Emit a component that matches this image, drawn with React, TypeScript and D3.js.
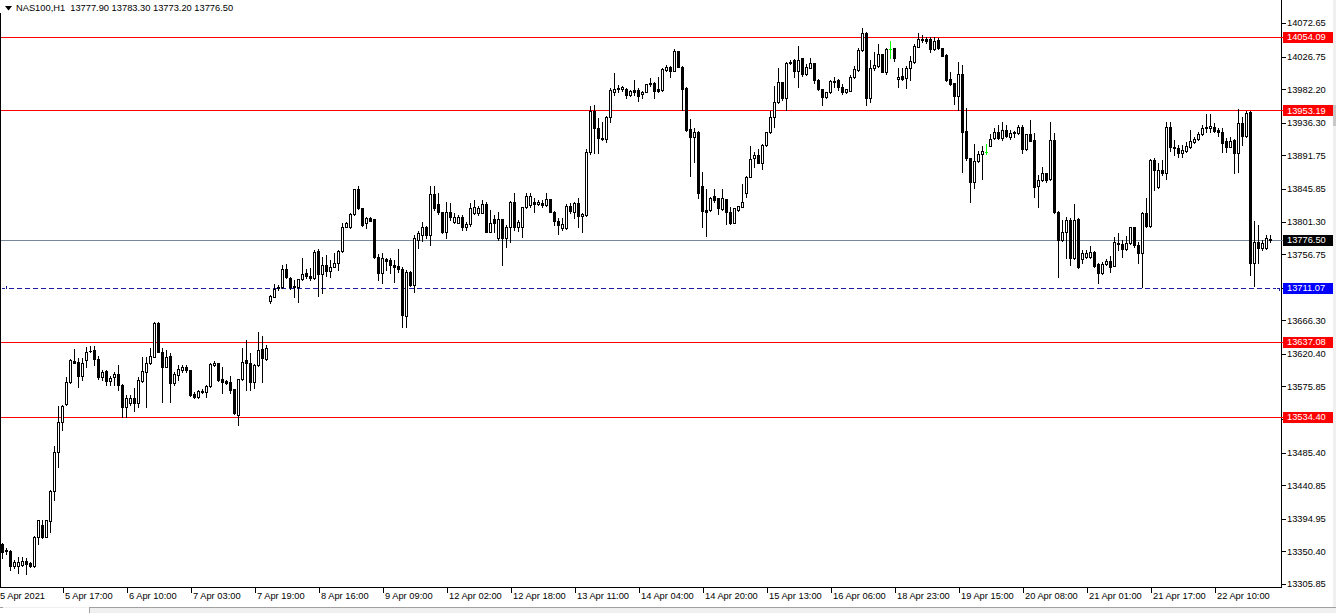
import React from 'react';
import * as d3 from 'd3';

const OPEN = [
13360.5,13351.7,13351.0,13330.5,13330.9,13331.8,13337.3,13334.6,13330.5,13370.1,
13386.5,13370.5,13392.4,13433.0,13486.7,13527.3,13551.9,13582.0,13611.1,13609.4,
13590.6,13612.1,13624.3,13625.7,13613.4,13588.8,13597.4,13583.8,13588.8,13592.9,
13577.9,13548.2,13552.9,13559.7,13552.9,13583.8,13596.1,13607.5,13616.6,13663.0,
13623.4,13602.9,13617.5,13581.0,13591.5,13598.4,13602.9,13598.4,13565.5,13561.1,
13569.6,13568.7,13576.5,13605.2,13607.5,13585.7,13583.3,13582.4,13572.4,13536.9,
13585.7,13612.1,13608.4,13582.4,13604.8,13626.7,13613.4,13693.1,13698.6,13711.8,
13711.4,13736.4,13724.6,13713.2,13711.4,13722.3,13730.5,13726.9,13723.7,13761.0,
13729.6,13741.9,13734.1,13739.6,13744.2,13761.0,13794.2,13794.2,13811.2,13845.4,
13819.4,13798.9,13805.7,13804.4,13752.4,13730.5,13749.7,13748.7,13741.9,13740.5,
13736.4,13672.6,13732.8,13714.6,13776.1,13782.9,13793.4,13782.9,13838.9,13825.3,
13813.9,13787.4,13813.9,13801.1,13799.7,13807.9,13794.2,13797.9,13812.5,13812.5,
13813.4,13825.3,13787.4,13804.4,13778.4,13804.4,13778.4,13793.4,13828.4,13793.4,
13793.4,13820.8,13823.9,13827.6,13825.3,13827.0,13823.9,13831.7,13814.8,13802.4,
13792.1,13792.1,13822.5,13814.8,13827.0,13809.3,13810.2,13895.9,13952.4,13928.7,
13915.1,13914.1,13944.6,13978.8,13983.4,13982.5,13982.0,13974.3,13980.7,13980.7,
13975.2,13978.8,13990.3,13990.3,13982.5,13981.1,14008.4,14012.9,14007.5,14034.4,
14012.9,13984.2,13927.8,13917.3,13924.1,13850.0,13817.1,13817.1,13836.2,13833.1,
13818.4,13832.1,13813.9,13799.7,13817.1,13821.6,13840.7,13862.6,13887.7,13892.2,
13881.7,13905.9,13923.3,13944.6,13964.3,13991.6,13970.6,14017.6,14022.1,14007.5,
14024.4,14002.5,14011.6,14017.6,13994.8,13982.0,13971.1,13977.9,13993.4,13994.8,
13984.8,13977.9,13980.1,13998.5,14008.4,14035.8,14058.6,13969.7,14010.7,14014.3,
14029.9,14006.1,14037.1,14038.1,13995.7,14000.2,13997.9,14011.6,14019.8,14040.3,
14050.8,14050.8,14050.8,14037.1,14049.4,14038.1,14028.9,13996.1,13990.3,13973.3,
14002.5,13925.0,13887.7,13855.8,13884.0,13893.6,13895.9,13904.9,13915.1,13924.1,
13915.1,13926.4,13917.3,13923.3,13921.9,13930.1,13900.0,13920.5,13912.7,13849.9,
13858.1,13867.2,13859.0,13912.7,13814.8,13776.1,13787.4,13803.4,13751.0,13804.4,
13750.1,13752.4,13752.4,13759.7,13743.3,13730.5,13742.8,13747.4,13740.9,13772.4,
13770.6,13763.4,13771.5,13793.4,13769.2,13758.7,13812.5,13795.2,13885.4,13848.1,
13871.7,13867.2,13930.9,13903.6,13901.4,13894.6,13898.1,13903.6,13910.4,13913.7,
13920.5,13930.9,13928.7,13930.9,13926.4,13924.1,13911.8,13903.6,13912.7,13894.6,
13935.6,13918.2,13951.4,13744.2,13772.9,13765.6,13765.6,13777.9
];

const HIGH = [
13361.9,13355.1,13352.0,13338.7,13342.8,13342.8,13341.8,13336.0,13371.0,13394.0,
13393.4,13393.4,13434.4,13494.5,13549.2,13550.6,13588.8,13613.0,13627.1,13614.8,
13614.8,13630.2,13631.2,13631.2,13617.5,13598.4,13598.4,13590.2,13595.7,13605.3,
13579.0,13564.2,13564.2,13573.8,13588.8,13616.2,13616.2,13628.5,13664.0,13664.0,
13628.5,13625.7,13622.0,13595.7,13605.2,13605.2,13605.2,13599.0,13568.3,13571.0,
13572.4,13577.9,13608.0,13611.1,13608.0,13602.9,13584.7,13590.2,13573.0,13586.1,
13628.9,13639.4,13621.6,13606.0,13649.9,13644.9,13632.6,13700.9,13715.9,13715.0,
13741.9,13743.3,13725.5,13721.4,13722.8,13751.0,13736.4,13737.4,13762.4,13763.4,
13753.3,13755.6,13748.7,13758.3,13762.4,13799.3,13801.1,13813.0,13845.8,13849.9,
13819.8,13807.5,13807.5,13804.8,13756.9,13758.3,13751.5,13751.5,13748.7,13763.8,
13738.8,13735.1,13734.0,13782.9,13788.8,13801.1,13795.2,13849.9,13849.9,13840.7,
13814.8,13828.4,13827.0,13812.5,13810.2,13810.2,13801.1,13826.2,13830.7,13822.9,
13830.7,13828.4,13817.1,13810.2,13814.8,13804.8,13796.6,13829.3,13839.9,13803.4,
13821.2,13839.9,13839.9,13833.1,13831.1,13830.7,13839.9,13832.1,13815.7,13806.1,
13805.7,13825.3,13827.0,13828.4,13833.1,13812.5,13900.5,13959.6,13960.6,13943.2,
13937.8,13945.5,13983.4,14003.9,13987.9,13987.0,13983.8,13980.7,13994.8,13983.4,
13979.7,13989.3,13997.9,13992.4,13999.3,14011.2,14015.3,14013.9,14037.1,14035.0,
14013.9,13985.2,13941.5,13928.7,13925.0,13869.4,13845.8,13835.2,13845.8,13833.5,
13845.4,13832.5,13821.6,13819.8,13822.9,13852.2,13863.5,13904.9,13896.8,13900.5,
13907.0,13923.7,13952.4,13986.6,14010.7,13992.0,14019.4,14022.1,14023.5,14041.6,
14025.2,14016.6,14024.4,14018.0,13996.0,13982.5,13978.4,13994.8,13999.3,13996.0,
13989.3,13982.5,14001.6,14014.3,14038.9,14065.4,14060.0,14022.1,14033.4,14043.6,
14030.3,14038.9,14048.1,14039.0,14011.6,14011.6,14013.9,14028.0,14044.0,14058.6,
14056.3,14053.9,14053.1,14053.9,14051.7,14038.5,14030.0,14006.1,13990.7,14019.8,
14015.3,13956.1,13888.2,13906.9,13897.7,13904.5,13907.3,13920.9,13928.7,13933.2,
13937.8,13933.2,13926.4,13925.5,13933.2,13933.2,13920.9,13940.1,13922.7,13864.9,
13876.3,13867.6,13937.8,13921.9,13816.0,13803.4,13807.1,13805.7,13825.3,13806.1,
13762.4,13762.4,13767.9,13761.4,13744.0,13746.0,13750.5,13754.2,13780.6,13786.1,
13776.1,13781.5,13794.2,13794.2,13773.8,13814.8,13833.1,13886.4,13887.7,13881.7,
13885.4,13937.8,13937.3,13912.7,13905.9,13905.9,13910.4,13926.4,13916.4,13924.1,
13933.2,13948.3,13948.3,13935.6,13928.7,13928.7,13915.5,13916.4,13913.7,13954.7,
13943.8,13952.8,13952.8,13802.4,13796.6,13776.1,13782.9,13783.3
];

const LOW = [
13341.5,13346.9,13325.0,13327.8,13320.9,13330.5,13319.5,13329.1,13329.1,13360.5,
13368.7,13370.1,13377.0,13420.7,13466.2,13516.4,13550.0,13580.6,13608.0,13575.5,
13584.7,13602.9,13623.0,13605.3,13586.1,13584.7,13577.9,13577.9,13577.9,13571.0,
13534.5,13533.7,13550.6,13542.8,13548.2,13582.0,13548.2,13606.6,13616.2,13623.0,
13555.1,13602.5,13555.1,13577.9,13584.7,13595.7,13595.7,13562.8,13560.1,13560.1,
13566.9,13561.9,13575.0,13604.0,13583.3,13566.5,13579.2,13566.9,13538.0,13523.2,
13584.7,13571.0,13571.0,13573.3,13604.0,13582.4,13612.0,13690.4,13698.2,13707.7,
13710.5,13724.0,13709.1,13698.6,13691.8,13721.4,13724.1,13721.4,13722.8,13699.5,
13703.2,13726.9,13725.1,13739.2,13735.1,13759.7,13793.8,13792.5,13810.0,13818.4,
13795.0,13792.1,13802.0,13751.5,13721.4,13716.9,13735.1,13730.5,13719.1,13732.4,
13657.5,13657.5,13713.0,13705.4,13764.7,13775.1,13778.8,13769.2,13817.1,13811.6,
13785.6,13778.4,13803.4,13798.9,13799.3,13789.7,13789.7,13795.2,13811.6,13810.2,
13812.5,13787.0,13787.0,13787.0,13776.1,13741.9,13766.1,13773.8,13789.7,13788.4,
13780.6,13819.8,13821.2,13814.8,13823.9,13821.6,13822.5,13814.3,13796.6,13784.3,
13789.7,13791.1,13812.5,13805.7,13794.2,13786.6,13808.8,13894.0,13894.6,13894.6,
13912.7,13910.4,13936.9,13974.3,13978.8,13979.7,13970.6,13972.9,13974.3,13966.0,
13970.6,13978.4,13986.6,13969.8,13978.4,13980.1,14007.1,13999.3,14007.1,14012.5,
13953.8,13925.0,13863.9,13882.3,13833.1,13794.2,13781.9,13816.0,13828.4,13811.2,
13817.1,13797.5,13797.9,13799.3,13816.0,13821.2,13835.2,13862.2,13876.3,13881.3,
13872.7,13905.0,13922.0,13930.9,13963.0,13967.4,13953.8,14016.0,13998.5,13985.6,
14000.2,14001.6,14011.2,13990.3,13981.1,13960.6,13970.2,13977.0,13985.6,13981.1,
13975.2,13977.0,13979.7,13997.0,14007.0,14034.0,13960.6,13964.3,14009.0,14013.0,
14005.0,14002.9,14024.4,14020.7,13984.8,13994.8,13983.4,13994.8,14018.0,14039.9,
14047.1,14045.3,14033.4,14036.0,14037.0,14027.6,13994.0,13987.9,13961.5,13953.8,
13868.6,13886.0,13828.4,13847.6,13883.0,13859.0,13893.6,13904.5,13914.5,13914.1,
13912.7,13916.8,13914.1,13916.4,13921.0,13894.6,13899.0,13911.4,13834.4,13821.6,
13857.0,13855.8,13858.1,13813.0,13725.9,13775.1,13751.0,13741.9,13750.0,13738.0,
13744.2,13751.5,13751.5,13739.6,13716.9,13729.0,13742.0,13731.9,13740.0,13762.4,
13753.3,13762.4,13770.0,13766.9,13744.2,13712.2,13794.2,13794.0,13844.4,13847.0,
13864.9,13859.0,13898.1,13892.2,13889.5,13889.5,13897.0,13902.0,13909.0,13913.2,
13919.0,13924.1,13924.1,13924.1,13918.2,13895.9,13896.8,13903.2,13867.2,13869.4,
13905.9,13917.0,13728.2,13713.6,13745.1,13762.4,13764.0,13773.2
];

const CLOSE = [
13349.7,13351.0,13330.5,13336.0,13336.4,13337.3,13333.6,13330.9,13370.1,13393.4,
13370.1,13393.4,13433.0,13486.3,13527.3,13549.2,13582.0,13612.1,13608.4,13590.6,
13608.0,13623.4,13624.8,13613.4,13588.8,13596.1,13583.8,13587.0,13592.9,13577.9,
13548.2,13559.7,13559.7,13552.9,13584.7,13597.0,13607.5,13617.5,13663.0,13623.4,
13602.9,13615.8,13581.0,13592.9,13599.3,13602.9,13598.4,13564.2,13561.1,13570.1,
13568.7,13576.5,13606.2,13608.4,13584.7,13582.4,13581.0,13571.0,13539.2,13585.7,
13609.8,13607.5,13582.4,13605.2,13625.7,13614.4,13628.0,13699.5,13709.1,13710.9,
13736.0,13725.1,13711.4,13711.4,13722.3,13729.6,13726.9,13723.7,13760.1,13729.6,
13741.9,13734.1,13739.6,13744.2,13761.0,13794.2,13798.9,13811.2,13845.4,13819.4,
13796.6,13805.7,13802.4,13752.4,13730.5,13751.0,13747.8,13741.9,13738.8,13736.4,
13673.6,13732.4,13714.6,13778.4,13785.2,13793.4,13782.9,13838.9,13819.4,13813.9,
13786.6,13813.9,13807.1,13807.9,13807.9,13794.2,13797.9,13819.4,13821.6,13819.4,
13825.3,13787.4,13799.7,13799.7,13804.4,13778.4,13794.2,13828.4,13793.4,13801.1,
13820.8,13836.2,13836.2,13824.9,13827.6,13823.9,13831.7,13814.8,13802.4,13796.6,
13797.9,13822.5,13816.1,13827.0,13809.3,13811.6,13896.8,13952.4,13928.7,13915.1,
13914.1,13944.6,13981.1,13982.5,13982.5,13985.6,13974.3,13979.7,13978.8,13973.3,
13978.8,13988.9,13988.9,13980.1,13980.1,14009.8,14012.9,14007.5,14034.4,14012.9,
13982.5,13926.4,13917.3,13924.1,13840.7,13815.7,13814.8,13833.9,13830.7,13819.4,
13833.1,13813.9,13799.7,13819.4,13822.5,13828.4,13862.6,13886.4,13892.2,13881.7,
13905.9,13923.3,13943.8,13964.3,13991.6,13970.6,14017.6,14019.8,14007.5,14022.1,
14002.5,14012.1,14017.6,13994.8,13982.0,13971.1,13977.9,13993.4,13992.4,13985.6,
13978.8,13982.0,13998.5,14009.8,14035.8,14058.6,13969.7,14010.7,14015.3,14029.9,
14006.1,14037.1,14037.1,14025.2,13998.5,13996.1,14011.6,14020.7,14041.6,14050.8,
14049.4,14048.5,14037.1,14048.1,14038.1,14028.0,13994.8,13989.3,13973.3,14002.5,
13924.1,13887.7,13855.8,13884.0,13893.6,13898.1,13895.9,13914.1,13924.1,13915.1,
13926.4,13918.2,13921.9,13921.9,13930.1,13900.0,13920.5,13911.8,13849.0,13858.1,
13867.2,13858.1,13912.7,13814.8,13776.1,13786.6,13803.4,13751.0,13803.4,13739.6,
13757.9,13758.7,13759.7,13740.9,13730.5,13743.3,13746.9,13739.6,13773.8,13770.6,
13763.4,13771.5,13793.4,13769.2,13758.7,13812.5,13795.2,13885.4,13871.7,13871.7,
13867.2,13930.9,13903.6,13901.4,13894.6,13899.1,13904.5,13911.4,13913.7,13920.5,
13928.7,13928.7,13931.9,13925.5,13924.1,13909.1,13903.6,13911.8,13894.6,13935.6,
13918.2,13950.1,13744.2,13772.9,13764.7,13771.5,13778.4,13776.5
];

const PRICE_TICKS = [
  14072.65, 14026.75, 13982.2, 13936.3, 13891.75, 13845.85, 13801.3, 13756.75, 13710.85,
  13666.3, 13620.4, 13575.85, 13531.3, 13485.4, 13440.85, 13394.95, 13350.4, 13305.85,
];
const FIRST_TIME_LABEL = '5 Apr 2021';
const TIME_LABELS = [
  '5 Apr 17:00', '6 Apr 10:00', '7 Apr 03:00', '7 Apr 19:00', '8 Apr 16:00', '9 Apr 09:00',
  '12 Apr 02:00', '12 Apr 18:00', '13 Apr 11:00', '14 Apr 04:00', '14 Apr 20:00', '15 Apr 13:00',
  '16 Apr 06:00', '18 Apr 23:00', '19 Apr 15:00', '20 Apr 08:00', '21 Apr 01:00', '21 Apr 17:00',
  '22 Apr 10:00',
];
const RED_LEVELS = [14054.09, 13953.19, 13637.08, 13534.4];
const BID_LEVEL = 13776.5;
const BLUE_LEVEL = 13711.07;
const TITLE = 'NAS100,H1  13777.90 13783.30 13773.20 13776.50';

const W = 1336;
const H = 613;
const AXIS_X = 1281;
const AXIS_Y = 587;
const FONT = "'Liberation Sans', Arial, sans-serif";
const FS = 9.3;

export default function App() {
  const x = d3.scaleLinear().domain([-0.5, 319.5]).range([0, 1280]);
  const y = d3.scaleLinear().domain([13305.85, 14072.65]).range([584, 23]);
  const n = Math.min(OPEN.length, HIGH.length, LOW.length, CLOSE.length);
  const candles = d3.range(n).map((i) => {
    const o = OPEN[i], c = CLOSE[i];
    return { i, o, c, h: Math.max(HIGH[i], o, c), l: Math.min(LOW[i], o, c) };
  });
  const ry = (v: number) => Math.round(y(v));
  const fmt = (v: number) => v.toFixed(2);
  const blueY = ry(BLUE_LEVEL);

  const box = (v: number, fill: string, key: string) => {
    const yy = ry(v);
    return (
      <g key={key}>
        <rect x={1283} y={yy - 5} width={51} height={11} fill={fill} />
        <text x={1287} y={y(v) + 3.4} fill="#fff" fontFamily={FONT} fontSize={FS}>{fmt(v)}</text>
      </g>
    );
  };

  return (
    <div style={{ position: 'absolute', left: 0, top: 0, width: W, height: H, background: '#fff' }}>
      <svg width={W} height={H} style={{ display: 'block' }}>
        <rect x={0} y={0} width={W} height={H} fill="#fff" />
        {/* frame */}
        <rect x={0} y={13} width={1} height={AXIS_Y - 13} fill="#000" />
        <rect x={0} y={AXIS_Y} width={AXIS_X + 1} height={1} fill="#000" />
        <rect x={AXIS_X} y={0} width={1} height={AXIS_Y + 1} fill="#000" />

        {/* levels */}
        {RED_LEVELS.map((v) => (
          <rect key={'r' + v} x={1} y={ry(v)} width={AXIS_X + 1} height={1} fill="#ff0000" />
        ))}
        <rect x={1} y={ry(BID_LEVEL)} width={AXIS_X + 1} height={1} fill="#778899" />
        <line x1={9} x2={AXIS_X - 10} y1={blueY + 0.5} y2={blueY + 0.5}
          stroke="#1a1a9a" strokeWidth={1} strokeDasharray="5,3" shapeRendering="crispEdges" />
        {/* small order-line hooks at both ends */}
        <g fill="#1a1a9a" shapeRendering="crispEdges">
          <rect x={2} y={blueY} width={3} height={1} />
          <rect x={6} y={blueY - 2} width={1} height={3} />
          <rect x={AXIS_X - 8} y={blueY} width={3} height={1} />
          <rect x={AXIS_X - 4} y={blueY} width={3} height={1} />
          <rect x={AXIS_X - 2} y={blueY} width={1} height={3} />
        </g>

        {/* candles */}
        <g shapeRendering="crispEdges">
          {candles.map((d) => {
            const px = Math.round(x(d.i));
            const yh = ry(d.h), yl = ry(d.l);
            const yt = ry(Math.max(d.o, d.c)), yb = ry(Math.min(d.o, d.c));
            if (d.o === d.c) {
              return (
                <g key={d.i}>
                  <rect x={px} y={yh} width={1} height={yl - yh + 1} fill="#00ff00" />
                  <rect x={px - 1} y={yt} width={3} height={1} fill="#00ff00" />
                </g>
              );
            }
            const bull = d.c > d.o;
            return (
              <g key={d.i}>
                <rect x={px} y={yh} width={1} height={yl - yh + 1} fill="#000" />
                <rect x={px - 1} y={yt} width={3} height={yb - yt + 1} fill="#000" />
                {bull && yb - yt >= 2 && (
                  <rect x={px} y={yt + 1} width={1} height={yb - yt - 1} fill="#fff" />
                )}
              </g>
            );
          })}
        </g>

        {/* price axis */}
        {PRICE_TICKS.map((v) => (
          <g key={'p' + v}>
            <rect x={AXIS_X + 1} y={ry(v)} width={4} height={1} fill="#000" />
            <text x={1287} y={y(v) + 3.4} fill="#000" fontFamily={FONT} fontSize={FS}>{fmt(v)}</text>
          </g>
        ))}
        {RED_LEVELS.map((v) => box(v, '#ff0000', 'b' + v))}
        {box(BID_LEVEL, '#000000', 'bid')}
        {box(BLUE_LEVEL, '#0000ff', 'blue')}

        {/* time axis */}
        <text x={0} y={599} fill="#000" fontFamily={FONT} fontSize={FS}>{FIRST_TIME_LABEL}</text>
        {TIME_LABELS.map((t, k) => {
          const bar = 15 + 16 * k;
          const tx = Math.round(x(bar)) + 1;
          return (
            <g key={t}>
              <rect x={tx} y={AXIS_Y + 1} width={1} height={5} fill="#000" />
              <text x={tx + 2} y={599} fill="#000" fontFamily={FONT} fontSize={FS}>{t}</text>
            </g>
          );
        })}

        {/* title */}
        <path d="M5,6 L12,6 L8.5,10.5 Z" fill="#000" />
        <text x={16} y={11} fill="#000" fontFamily={FONT} fontSize={FS} style={{ whiteSpace: 'pre' }}>{TITLE}</text>

        {/* window chrome */}
        <rect x={1333} y={0} width={3} height={607} fill="#f0f0f0" />
        <rect x={1333} y={105} width={3} height={21} fill="#c8c8c8" />
        <rect x={0} y={607} width={W} height={6} fill="#f0f0f0" />
        <rect x={0} y={608} width={89} height={5} fill="#fff" />
        <rect x={89} y={607} width={W - 89} height={1} fill="#a0a0a0" />
        <rect x={89} y={607} width={1} height={6} fill="#a0a0a0" />
        <rect x={0} y={607} width={3} height={1} fill="#a0a0a0" />
      </svg>
    </div>
  );
}
